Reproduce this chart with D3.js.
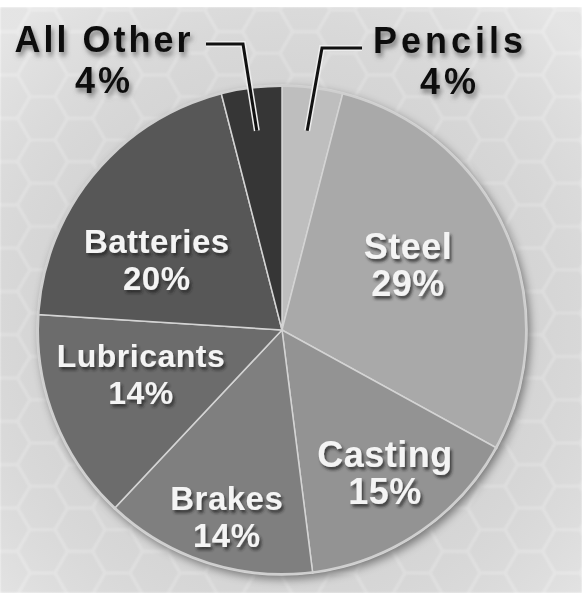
<!DOCTYPE html>
<html>
<head>
<meta charset="utf-8">
<title>Pie</title>
<style>
body { margin: 0; background: #fff; }
text { font-family: "Liberation Sans", Arial, sans-serif; font-weight: bold; }
</style>
</head>
<body>
<script src="https://d3js.org/d3.v7.min.js"></script>
<script>
// data, clockwise from 12 o'clock
var categories = ["Pencils", "Steel", "Casting", "Brakes", "Lubricants", "Batteries", "All Other"];
var values = [4, 29, 15, 14, 14, 20, 4];
var shades = ["#bebebe", "#a9a9a9", "#939393", "#7f7f7f", "#6c6c6c", "#575757", "#363636"];

// inside label layout: radius fraction, angle nudge (deg), font size
var labelRadius = [0, 0.59, 0.70, 0.767, 0.595, 0.6, 0];
var labelNudge = [0, -6, -2.7, -0.9, 6.9, -8, 0];
var labelSize = [0, 36, 36, 33, 32, 33, 0];

var width = 582, height = 593;
var cx = 282, cy = 330, R = 245;

var svg = d3.select("body").append("svg")
    .attr("width", width)
    .attr("height", height);

var defs = svg.append("defs");

// hexagon background
var hr = 25, hh = Math.sqrt(3) * hr;
var pat = defs.append("pattern")
    .attr("id", "hex")
    .attr("patternUnits", "userSpaceOnUse")
    .attr("width", 3 * hr)
    .attr("height", hh)
    .attr("x", 5).attr("y", 10);
pat.append("rect").attr("width", 3 * hr).attr("height", hh).attr("fill", "#dedede");
function hexPath(x, y) {
  var pts = d3.range(6).map(function(i) {
    var a = Math.PI / 3 * i;
    return [x + hr * Math.cos(a), y + hr * Math.sin(a)];
  });
  return "M" + pts.join("L") + "Z";
}
[[0, 0], [3 * hr, 0], [0, hh], [3 * hr, hh], [1.5 * hr, hh / 2]].forEach(function(p) {
  pat.append("path").attr("d", hexPath(p[0], p[1]))
      .attr("fill", "none").attr("stroke", "#e7e7e7").attr("stroke-width", 3);
});

var vign = defs.append("radialGradient").attr("id", "vign")
    .attr("cx", "50%").attr("cy", "55%").attr("r", "70%");
vign.append("stop").attr("offset", "0%").attr("stop-color", "#000").attr("stop-opacity", 0.03);
vign.append("stop").attr("offset", "100%").attr("stop-color", "#fff").attr("stop-opacity", 0.2);

var blur = defs.append("filter").attr("id", "soft");
blur.append("feGaussianBlur").attr("stdDeviation", 1.2);

var shadow = defs.append("filter").attr("id", "pieShadow")
    .attr("x", "-20%").attr("y", "-20%").attr("width", "140%").attr("height", "140%");
shadow.append("feDropShadow").attr("dx", 3).attr("dy", 4).attr("stdDeviation", 5)
    .attr("flood-color", "#000").attr("flood-opacity", 0.45);

var txtShadow = defs.append("filter").attr("id", "txtShadow")
    .attr("x", "-20%").attr("y", "-30%").attr("width", "140%").attr("height", "160%");
txtShadow.append("feDropShadow").attr("dx", 2).attr("dy", 3).attr("stdDeviation", 1.6)
    .attr("flood-color", "#222").attr("flood-opacity", 0.75);

var outShadow = defs.append("filter").attr("id", "outShadow")
    .attr("x", "-20%").attr("y", "-30%").attr("width", "140%").attr("height", "160%");
outShadow.append("feDropShadow").attr("dx", 2).attr("dy", 4).attr("stdDeviation", 2.5)
    .attr("flood-color", "#555").attr("flood-opacity", 0.7);

svg.append("rect").attr("y", 7).attr("width", width).attr("height", height - 7)
    .attr("fill", "url(#hex)").attr("filter", "url(#soft)");
svg.append("rect").attr("y", 7).attr("width", width).attr("height", height - 7).attr("fill", "url(#vign)");
svg.append("rect").attr("width", width).attr("height", 7).attr("fill", "#fff");

var pie = d3.pie().sort(null).value(function(d) { return d; });
var arcs = pie(values);
var arc = d3.arc().innerRadius(0).outerRadius(R);

var g = svg.append("g").attr("transform", "translate(" + cx + "," + cy + ")");

g.append("circle").attr("r", R).attr("fill", "#777").attr("filter", "url(#pieShadow)");

g.selectAll("path.slice")
  .data(arcs)
  .enter().append("path")
    .attr("class", "slice")
    .attr("d", arc)
    .attr("fill", function(d, i) { return shades[i]; })
    .attr("stroke", "#d4d4d4")
    .attr("stroke-width", 1.5);

g.append("circle").attr("r", R - 1).attr("fill", "none")
    .attr("stroke", "#cfcfcf").attr("stroke-width", 2);

// inside labels
arcs.forEach(function(d, i) {
  if (!labelRadius[i]) return;
  var a = (d.startAngle + d.endAngle) / 2 + labelNudge[i] * Math.PI / 180;
  var r = labelRadius[i] * R;
  var x = r * Math.sin(a), y = -r * Math.cos(a);
  var t = g.append("text")
      .attr("text-anchor", "middle")
      .attr("fill", "#f4f4f4")
      .attr("font-size", labelSize[i])
      .attr("letter-spacing", 0.5)
      .attr("filter", "url(#txtShadow)");
  t.append("tspan").attr("x", x).attr("y", y).text(categories[i]);
  t.append("tspan").attr("x", x).attr("y", y + 37).text(values[i] + "%");
});

// outside labels with leader lines
function leader(i, pts) {
  var a = (arcs[i].startAngle + arcs[i].endAngle) / 2;
  var r = 0.82 * R;
  var end = [cx + r * Math.sin(a), cy - r * Math.cos(a)];
  var line = d3.line()(pts.concat([end]));
  svg.append("path").attr("d", line).attr("fill", "none")
      .attr("stroke", "#eeeeee").attr("stroke-width", 6).attr("stroke-linejoin", "miter");
  svg.append("path").attr("d", line).attr("fill", "none")
      .attr("stroke", "#111").attr("stroke-width", 3).attr("stroke-linejoin", "miter");
}
leader(6, [[206, 44], [243, 44]]);
leader(0, [[362, 48], [322, 48]]);

function outLabel(i, x, y, sp) {
  var t = svg.append("text")
      .attr("text-anchor", "middle")
      .attr("fill", "#111")
      .attr("font-size", 36)
      .attr("letter-spacing", sp)
      .attr("filter", "url(#outShadow)");
  t.append("tspan").attr("x", x).attr("y", y).text(categories[i]);
  t.append("tspan").attr("x", x).attr("y", y + 41).text(values[i] + "%");
}
outLabel(6, 104, 52, 3);
outLabel(0, 450, 53, 4);
</script>
</body>
</html>
